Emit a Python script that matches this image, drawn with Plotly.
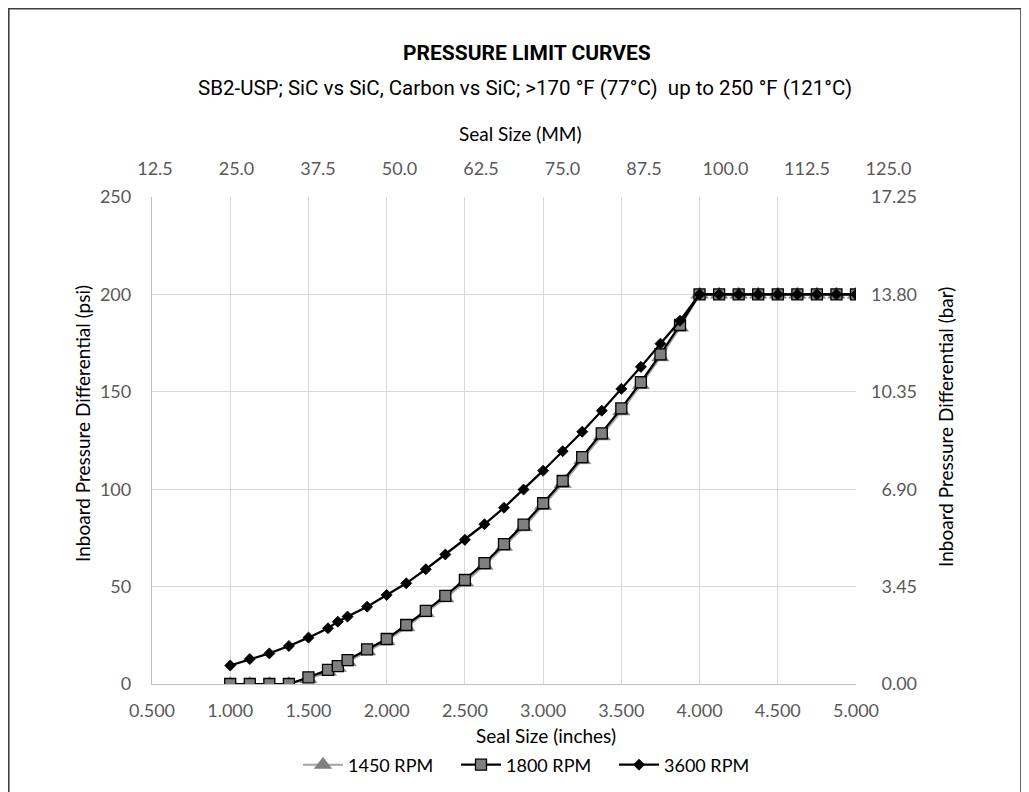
import plotly.graph_objects as go

# ---------------- data ----------------
seal_in = [1.0, 1.125, 1.25, 1.375, 1.5, 1.625, 1.6875, 1.75, 1.875, 2.0,
           2.125, 2.25, 2.375, 2.5, 2.625, 2.75, 2.875, 3.0, 3.125, 3.25,
           3.375, 3.5, 3.625, 3.75, 3.875, 4.0, 4.125, 4.25, 4.375, 4.5,
           4.625, 4.75, 4.875, 5.0]
rpm1450 = [0, 0, 0, 0, 2.6, 6.3, 8.3, 11.3, 16.8, 22.0, 29.2, 36.4, 44.0,
           52.2, 60.8, 70.5, 80.5, 91.5, 102.8, 115.0, 127.2, 140.0, 153.5,
           167.8, 183.0, 200, 200, 200, 200, 200, 200, 200, 200, 200]
rpm1800 = [0, 0, 0, 0, 3.4, 7.2, 9.2, 12.3, 17.8, 23.1, 30.3, 37.5, 45.2,
           53.4, 62.0, 71.8, 81.8, 92.8, 104.2, 116.5, 128.7, 141.5, 154.9,
           169.2, 184.3, 200, 200, 200, 200, 200, 200, 200, 200, 200]
rpm3600 = [9.5, 12.8, 15.7, 19.5, 23.8, 28.6, 32.0, 34.6, 39.7, 45.7, 51.7,
           58.9, 66.5, 74.0, 82.0, 90.5, 99.8, 109.5, 119.5, 129.5, 140.3,
           151.5, 162.8, 174.7, 186.5, 200, 200, 200, 200, 200, 200, 200,
           200, 200]
series_names = ["1450 RPM", "1800 RPM", "3600 RPM"]

x_range = [0.5, 5.0]
x_ticks = [0.5, 1.0, 1.5, 2.0, 2.5, 3.0, 3.5, 4.0, 4.5, 5.0]
mm_range = [12.04, 125.23]
mm_ticks = [12.5, 25.0, 37.5, 50.0, 62.5, 75.0, 87.5, 100.0, 112.5, 125.0]
psi_range = [0, 250]
psi_ticks = [0, 50, 100, 150, 200, 250]
bar_ticks = [0.0, 3.45, 6.90, 10.35, 13.80, 17.25]
bar_range = [0, 17.25]

title_text = "PRESSURE LIMIT CURVES"
subtitle_text = "SB2-USP; SiC vs SiC, Carbon vs SiC; >170 °F (77°C)  up to 250 °F (121°C)"
x_title = "Seal Size (inches)"
x2_title = "Seal Size (MM)"
y_title = "Inboard Pressure Differential (psi)"
y2_title = "Inboard Pressure Differential (bar)"

# ---------------- layout geometry (page pixels) ----------------
OFF = 8                      # browser body margin
W, H = 1029 - OFF, 792 - OFF
PL, PR_X, PR_P, PT, PB = 152, 856, 890, 197, 684
Lm, Rm, Tm, Bm = PL - OFF, PR_P - OFF, PT - OFF, PB - OFF


def px_x(p):
    return (p - OFF - Lm) / (Rm - Lm)


def px_y(p):
    return (Bm - (p - OFF)) / (Bm - Tm)


x_dom_end = (PR_X - PL) / (PR_P - PL)

SANS = "Lato, 'Open Sans', sans-serif"
TICK_FONT = dict(family=SANS, size=18, color="#595959")
TXT_FONT = dict(family=SANS, size=19, color="#000000")
HEAD = "Roboto, 'Noto Sans', sans-serif"
GRID = "#d9d9d9"

fig = go.Figure()

fig.add_trace(go.Scatter(
    x=seal_in, y=rpm1450, name=series_names[0], mode="lines+markers",
    line=dict(color="#a5a5a5", width=2),
    marker=dict(symbol="triangle-up", size=15, color="#808080",
                line=dict(color="#7a7a7a", width=0.5)),
))
fig.add_trace(go.Scatter(
    x=seal_in, y=rpm1800, name=series_names[1], mode="lines+markers",
    line=dict(color="#000000", width=2.25),
    marker=dict(symbol="square", size=11, color="#7f7f7f",
                line=dict(color="#000000", width=1.3)),
))
fig.add_trace(go.Scatter(
    x=seal_in, y=rpm3600, name=series_names[2], mode="lines+markers",
    line=dict(color="#000000", width=2.25),
    marker=dict(symbol="diamond", size=8.5, color="#000000",
                line=dict(color="#000000", width=0.8)),
))
# invisible helper traces to activate the secondary axes
fig.add_trace(go.Scatter(x=[20, 30], y=[None, None], xaxis="x2", yaxis="y3",
                         showlegend=False, hoverinfo="skip"))
fig.add_trace(go.Scatter(x=[1, 2], y=[None, None], xaxis="x", yaxis="y2",
                         showlegend=False, hoverinfo="skip"))

bar_text = [("\u2007" if v < 10 else "") + f"{v:.2f}" for v in bar_ticks]

fig.update_layout(
    width=W, height=H,
    margin=dict(l=Lm, r=W - Rm, t=Tm, b=H - Bm, autoexpand=False),
    paper_bgcolor="white", plot_bgcolor="rgba(0,0,0,0)",
    showlegend=True,
    legend=dict(orientation="h", x=px_x(535), xanchor="center",
                y=px_y(765), yanchor="middle",
                font=dict(family=SANS, size=18, color="#000000"),
                itemwidth=40, entrywidth=103, tracegroupgap=0,
                bgcolor="rgba(0,0,0,0)"),
    xaxis=dict(domain=[0, x_dom_end], range=x_range, tickvals=x_ticks,
               ticktext=[f"{v:.3f}" for v in x_ticks],
               showgrid=True, gridcolor=GRID, gridwidth=1.3,
               showline=True, linecolor="#bfbfbf", linewidth=1.3,
               zeroline=False, ticks="", tickfont=TICK_FONT,
               ticklabelstandoff=10),
    xaxis2=dict(domain=[0, 1], range=mm_range, tickvals=mm_ticks,
                ticktext=[f"{v:.1f}" for v in mm_ticks],
                side="top", anchor="y3",
                showgrid=False, showline=False, zeroline=False, ticks="",
                tickfont=TICK_FONT, ticklabelstandoff=17),
    yaxis=dict(range=psi_range, tickvals=psi_ticks, anchor="x",
               showgrid=True, gridcolor=GRID, gridwidth=1.3,
               showline=True, linecolor="#bfbfbf", linewidth=1.3,
               zeroline=False, ticks="", tickfont=TICK_FONT,
               ticklabelstandoff=16),
    yaxis2=dict(range=bar_range, tickvals=bar_ticks, ticktext=bar_text,
                overlaying="y", side="right", anchor="x",
                showgrid=False, showline=False, zeroline=False, ticks="",
                tickfont=TICK_FONT, ticklabelstandoff=14),
    yaxis3=dict(range=psi_range, domain=[0, 1], anchor="x2",
                visible=False, showgrid=False, zeroline=False),
    annotations=[
        dict(text="<b>" + title_text + "</b>", x=px_x(527), y=px_y(53),
             xref="paper", yref="paper", showarrow=False,
             xanchor="center", yanchor="middle",
             font=dict(family=HEAD, size=21, color="#000000")),
        dict(text=subtitle_text, x=px_x(525), y=px_y(88),
             xref="paper", yref="paper", showarrow=False,
             xanchor="center", yanchor="middle",
             font=dict(family=HEAD, size=20.5, color="#000000")),
        dict(text=x2_title, x=px_x(520), y=px_y(133),
             xref="paper", yref="paper", showarrow=False,
             xanchor="center", yanchor="middle", font=TXT_FONT),
        dict(text=x_title, x=px_x(546), y=px_y(735),
             xref="paper", yref="paper", showarrow=False,
             xanchor="center", yanchor="middle", font=TXT_FONT),
        dict(text=y_title, x=px_x(82), y=px_y(424), textangle=-90,
             xref="paper", yref="paper", showarrow=False,
             xanchor="center", yanchor="middle", font=TXT_FONT),
        dict(text=y2_title, x=px_x(945), y=px_y(427), textangle=-90,
             xref="paper", yref="paper", showarrow=False,
             xanchor="center", yanchor="middle", font=TXT_FONT),
    ],
    shapes=[
        dict(type="rect", xref="paper", yref="paper",
             x0=px_x(8.8), x1=px_x(1021), y0=px_y(820), y1=px_y(8.8),
             line=dict(color="#404040", width=1.6), fillcolor="rgba(0,0,0,0)",
             layer="below"),
    ],
)

fig.write_html("out.html")
